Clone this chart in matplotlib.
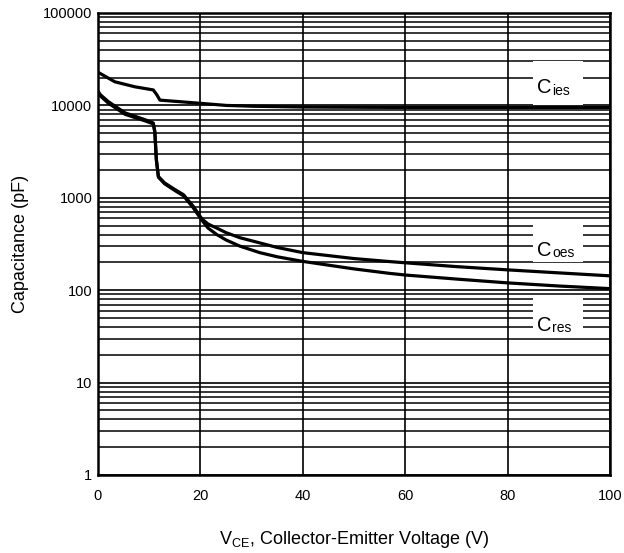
import matplotlib
matplotlib.use("Agg")
import matplotlib.pyplot as plt
from matplotlib.patches import Rectangle
from matplotlib.ticker import LogLocator, FixedLocator, NullFormatter

plt.rcParams['font.family'] = ['Liberation Sans', 'DejaVu Sans']
plt.rcParams['mathtext.fontset'] = 'custom'
plt.rcParams['mathtext.rm'] = 'Liberation Sans'

# Data
cies_x = [0, 0.4, 3.3, 7.2, 10.8, 11.5, 12.1, 15.7, 20.3, 25, 30, 40, 60, 80, 100]
cies_y = [22800, 22200, 18000, 15900, 14700, 13000, 11400, 11000, 10500, 10000, 9800, 9600, 9500, 9500, 9500]

coes_x = [0, 0.5, 2, 5.3, 9.2, 10.8, 11.1, 11.4, 11.8, 13, 15, 16.7, 18.6, 20.3, 21.5, 23.2, 25, 27.7,
          31.6, 35, 40, 50, 57, 60, 70, 80, 90, 100]
coes_y = [14200, 13000, 11000, 8300, 7000, 6450, 5200, 2600, 1700, 1450, 1230, 1080, 810, 590, 520, 470, 420, 370,
          325, 290, 255, 220, 204, 198, 180, 166, 154, 143]

cres_x = [0, 0.5, 2, 5.3, 9.2, 10.8, 11.1, 11.4, 11.8, 13, 15, 16.7, 18.6, 20.3, 21.5, 23.2, 25, 27.7,
          31.6, 35, 40, 50, 57, 60, 70, 80, 90, 100]
cres_y = [13800, 12600, 10600, 8000, 6800, 6300, 5100, 2550, 1670, 1420, 1200, 1050, 780, 570, 470, 400, 350, 300,
          255, 230, 205, 170, 152, 146, 132, 120, 111, 104]

labels = ["ies", "oes", "res"]
xticks = [0, 20, 40, 60, 80, 100]
yticks = [1, 10, 100, 1000, 10000, 100000]

fig = plt.figure(figsize=(6.24, 5.53), dpi=100)
ax = fig.add_axes([98/624, (553-475)/553, 512/624, 462/553])
ax.set_xlim(0, 100)
ax.set_yscale('log')
ax.set_ylim(1, 100000)

ax.xaxis.set_major_locator(FixedLocator(xticks))
ax.yaxis.set_major_locator(FixedLocator(yticks))
ax.yaxis.set_minor_locator(LogLocator(base=10, subs=range(2, 10)))
ax.yaxis.set_minor_formatter(NullFormatter())
ax.set_xticklabels([str(v) for v in xticks])
ax.set_yticklabels([str(v) for v in yticks])
ax.tick_params(which='both', length=0, labelsize=10.5)
ax.tick_params(axis='x', pad=10)
ax.tick_params(axis='y', pad=4)

ax.grid(True, which='major', color='black', lw=1.2)
ax.grid(True, which='minor', axis='y', color='black', lw=1.1)
ax.set_axisbelow(True)
for s in ax.spines.values():
    s.set_linewidth(1.8)
    s.set_zorder(5)

for xs, ys in [(cies_x, cies_y), (coes_x, coes_y), (cres_x, cres_y)]:
    ax.plot(xs, ys, color='black', lw=2.3, solid_joinstyle='round', solid_capstyle='round', zorder=3)

# label boxes (axes fraction)
boxes = [(0.801, 0.896), (0.461, 0.541), (0.297, 0.383)]
baselines = [0.826, 0.474, 0.312]
bx0, bx1 = (533-98)/512, (583-98)/512
for lab, (b0, b1), bl in zip(labels, boxes, baselines):
    ax.add_patch(Rectangle((bx0, b0), bx1-bx0, b1-b0, transform=ax.transAxes,
                           facecolor='white', edgecolor='none', zorder=4))
    ax.text((537-98)/512, bl, "C", transform=ax.transAxes, fontsize=14.5,
            va='baseline', ha='left', zorder=6)
    ax.text((552-98)/512, bl - 0.003, lab, transform=ax.transAxes, fontsize=10,
            va='baseline', ha='left', zorder=6)

ax.set_ylabel("Capacitance (pF)", fontsize=13, labelpad=10)
fig.text(354/624, 1 - 540/553, r"V$_{\mathrm{CE}}$, Collector-Emitter Voltage (V)",
         fontsize=13, ha='center', va='center')

fig.savefig("out.png", dpi=100)
